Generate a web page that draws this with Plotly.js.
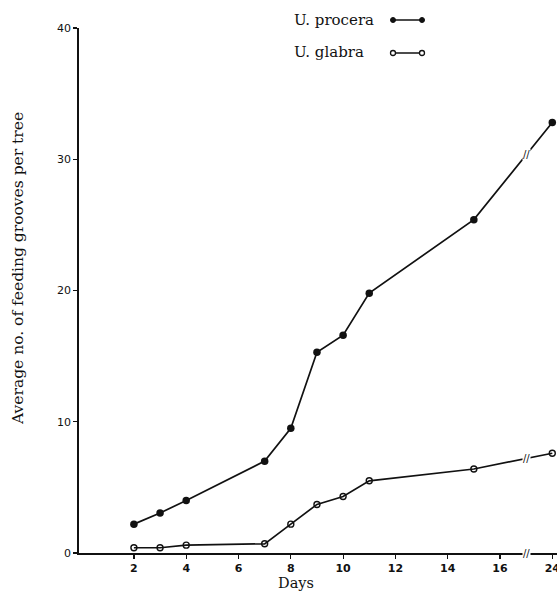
<!DOCTYPE html>
<html>
<head>
<meta charset="utf-8">
<script src="https://cdn.plot.ly/plotly-3.0.1.min.js"></script>
<style>html,body{margin:0;padding:0;background:#fff;overflow:hidden;}#chart{width:557px;height:593px;}</style>
</head>
<body>
<div id="chart"></div>
<script>
// Days (24 is drawn after an axis break, at position 18)
const days = [2, 3, 4, 7, 8, 9, 10, 11, 15, 24];
const procera = [2.2, 3.05, 4.0, 7.0, 9.5, 15.3, 16.6, 19.8, 25.4, 32.8];
const glabra = [0.4, 0.4, 0.6, 0.7, 2.2, 3.7, 4.3, 5.5, 6.4, 7.6];
const tickVals = [2, 4, 6, 8, 10, 12, 14, 16, 18];
const tickText = ["2", "4", "6", "8", "10", "12", "14", "16", "24"];
const yTicks = [0, 10, 20, 30, 40];
const seriesNames = ["U. procera", "U. glabra"];

const breakDay = 16, breakPos = 18, breakMark = 17;
const pos = d => d > breakDay ? breakPos : d;
const xPos = days.map(pos);

function interp(xs, ys, x) {
  for (let i = 0; i < xs.length - 1; i++) {
    if (x >= xs[i] && x <= xs[i + 1]) {
      return ys[i] + (ys[i + 1] - ys[i]) * (x - xs[i]) / (xs[i + 1] - xs[i]);
    }
  }
  return ys[ys.length - 1];
}

const ink = '#111';
const traces = [
  {x: xPos, y: procera, mode: 'lines+markers', name: seriesNames[0],
   line: {color: ink, width: 1.7}, marker: {symbol: 'circle', size: 7.5, color: ink}, cliponaxis: false},
  {x: xPos, y: glabra, mode: 'lines+markers', name: seriesNames[1],
   line: {color: ink, width: 1.7}, marker: {symbol: 'circle-open', size: 6, color: ink, line: {width: 1.4, color: ink}}, cliponaxis: false}
];

const L = 79, R = 557, T = 28, B = 553;
const px = v => (v - L) / (R - L);
const py = v => (B - v) / (B - T);

const serif = 'DejaVu Serif, serif';
const breakFont = {family: 'DejaVu Sans', size: 10, color: ink};
const ann = (x, y, text, size, extra) => Object.assign({x: px(x), y: py(y), xref: 'paper', yref: 'paper', text: text,
  xanchor: 'center', yanchor: 'middle', showarrow: false, font: {family: serif, size: size, color: ink}}, extra || {});
const annotations = [
  ann(18, 269, 'Average no. of feeding grooves per tree', 15.5, {textangle: -90}),
  ann(296, 583, 'Days', 14.5),
  ann(292, 20, seriesNames[0], 15, {xanchor: 'left'}),
  ann(292, 52, seriesNames[1], 15, {xanchor: 'left'}),
  {x: breakMark, y: 0, xref: 'x', yref: 'y', text: '//', showarrow: false, font: breakFont, bgcolor: '#fff', borderpad: 0, xanchor: 'center', yanchor: 'middle'},
  {x: breakMark, y: interp(xPos, procera, breakMark), xref: 'x', yref: 'y', text: '//', showarrow: false, font: breakFont, bgcolor: '#fff', borderpad: 0, xanchor: 'center', yanchor: 'middle'},
  {x: breakMark, y: interp(xPos, glabra, breakMark), xref: 'x', yref: 'y', text: '//', showarrow: false, font: breakFont, bgcolor: '#fff', borderpad: 0, xanchor: 'center', yanchor: 'middle'}
];

const shapes = [
  {type: 'line', xref: 'paper', yref: 'paper', x0: px(393), x1: px(422), y0: py(20), y1: py(20), line: {color: ink, width: 1.5}},
  {type: 'circle', xref: 'paper', yref: 'paper', x0: px(390.5), x1: px(395.5), y0: py(22.5), y1: py(17.5), fillcolor: ink, line: {color: ink, width: 1}},
  {type: 'circle', xref: 'paper', yref: 'paper', x0: px(419.5), x1: px(424.5), y0: py(22.5), y1: py(17.5), fillcolor: ink, line: {color: ink, width: 1}},
  {type: 'line', xref: 'paper', yref: 'paper', x0: px(395), x1: px(420), y0: py(53), y1: py(53), line: {color: ink, width: 1.5}},
  {type: 'circle', xref: 'paper', yref: 'paper', x0: px(390.5), x1: px(395.5), y0: py(55.5), y1: py(50.5), fillcolor: '#fff', line: {color: ink, width: 1.3}},
  {type: 'circle', xref: 'paper', yref: 'paper', x0: px(419.5), x1: px(424.5), y0: py(55.5), y1: py(50.5), fillcolor: '#fff', line: {color: ink, width: 1.3}}
];

const xTickFont = {family: 'DejaVu Sans, Arial, sans-serif', size: 11, color: ink, weight: 'bold'};
const yTickFont = {family: 'DejaVu Sans, Arial, sans-serif', size: 11, color: ink};
const layout = {
  width: 557, height: 593,
  margin: {l: L, r: 557 - R, t: T, b: 593 - B, autoexpand: false},
  paper_bgcolor: '#fff', plot_bgcolor: '#fff',
  showlegend: false,
  xaxis: {range: [-0.1, 18.18], tickvals: tickVals, ticktext: tickText, showgrid: false, zeroline: false,
          showline: true, linecolor: ink, linewidth: 1.7, ticks: 'outside', ticklen: 4, tickwidth: 1.2, tickcolor: ink,
          tickfont: xTickFont, ticklabeloverflow: 'allow', fixedrange: true},
  yaxis: {range: [0, 40], tickvals: yTicks, showgrid: false, zeroline: false,
          showline: true, linecolor: ink, linewidth: 1.7, ticks: 'outside', ticklen: 4, tickwidth: 1.2, tickcolor: ink,
          tickfont: yTickFont, fixedrange: true},
  annotations: annotations,
  shapes: shapes
};

Plotly.newPlot('chart', traces, layout, {displayModeBar: false, staticPlot: true});
</script>
</body>
</html>
